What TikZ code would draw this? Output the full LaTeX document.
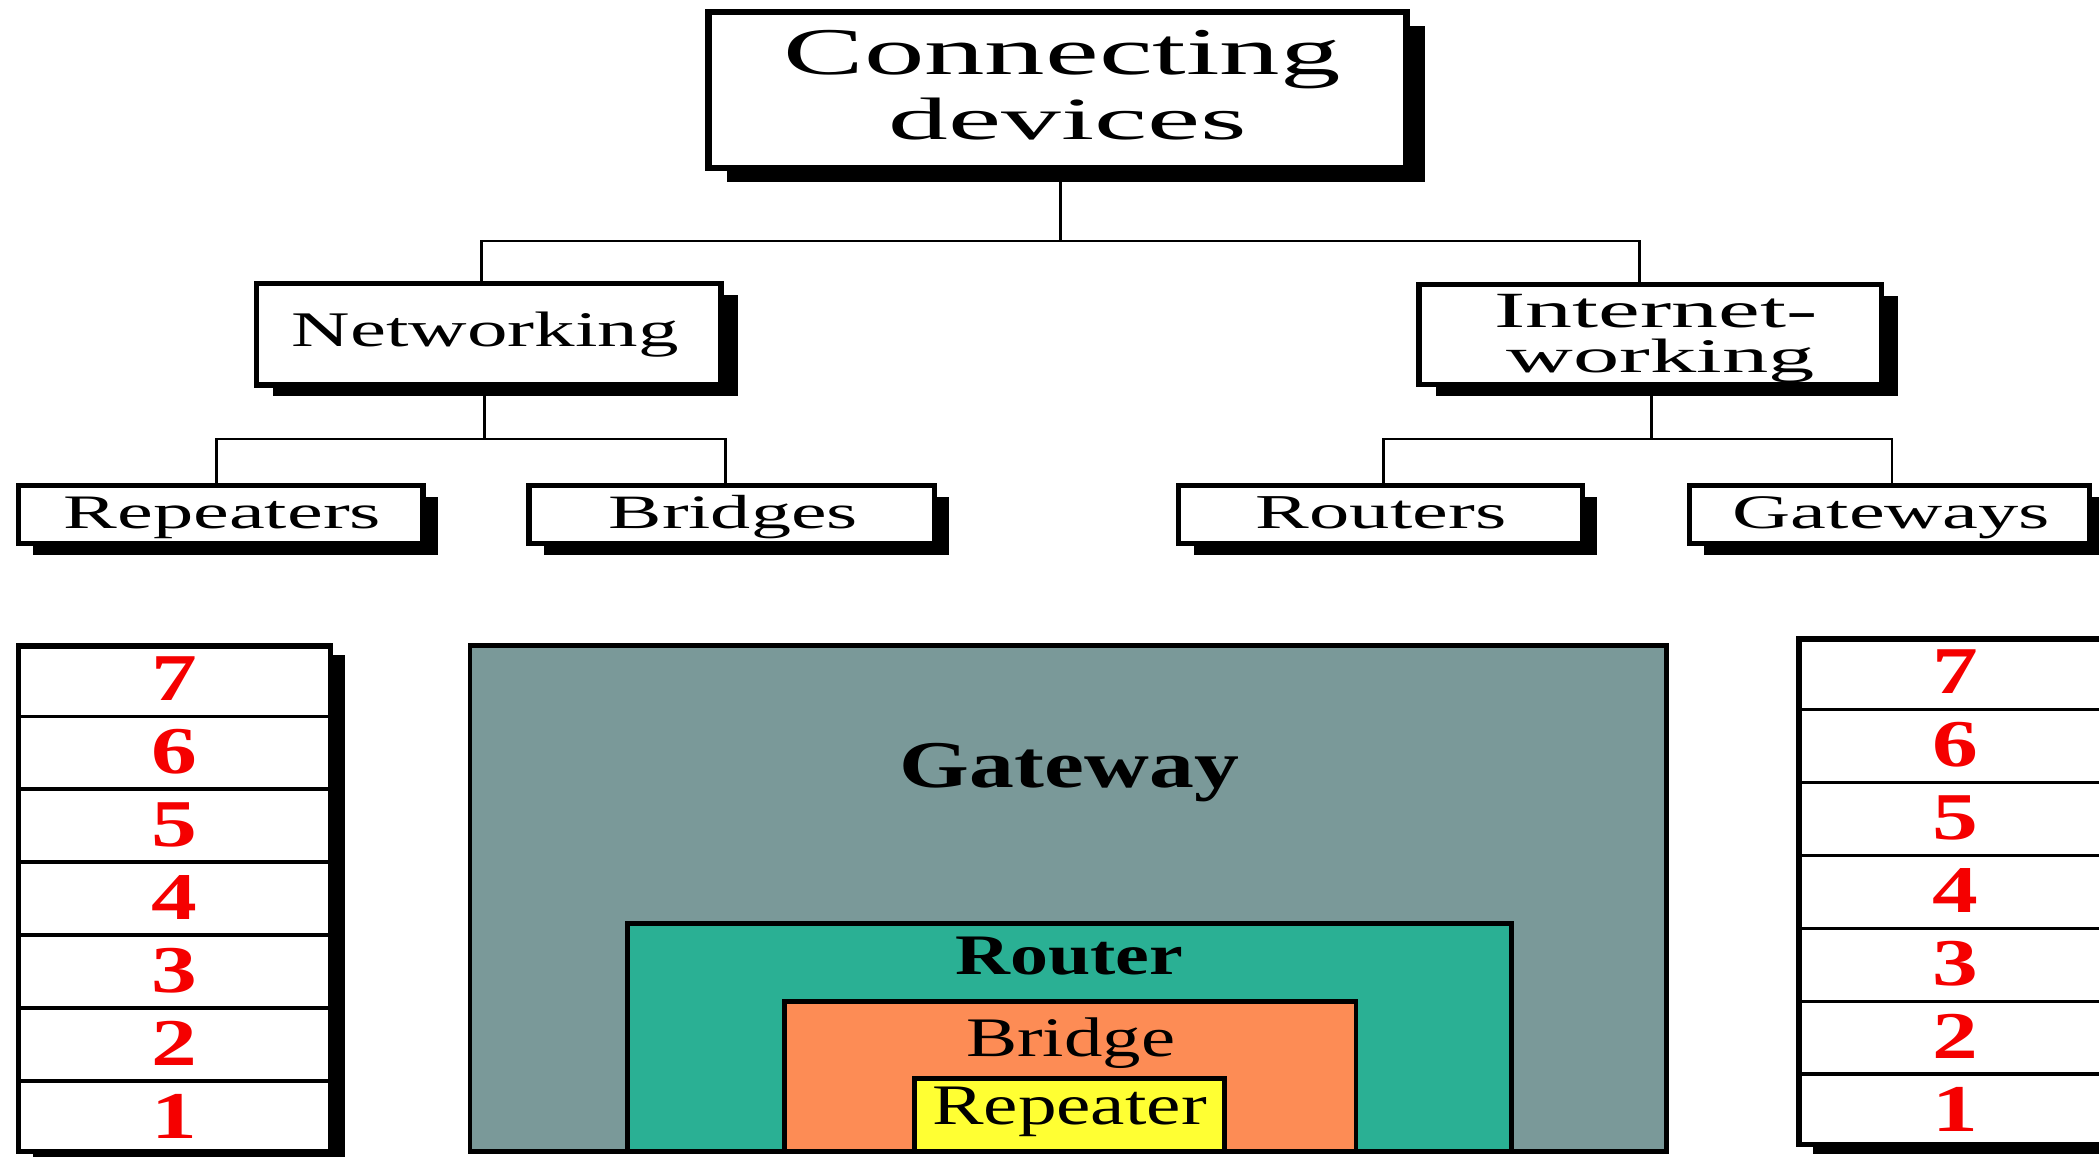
\documentclass[tikz,border=0pt]{standalone}
\usepackage{fontspec}
\setmainfont{Liberation Serif}
\usepackage{graphicx}
\usetikzlibrary{fit,shadows}
\definecolor{gwfill}{RGB}{122,153,153}
\definecolor{rtfill}{RGB}{42,176,148}
\definecolor{brfill}{RGB}{253,140,85}
\definecolor{rpfill}{RGB}{255,255,51}
\definecolor{digitred}{RGB}{245,0,0}
\newcommand\rz[3]{\resizebox{#1mm}{#2mm}{#3}}
\begin{document}
\begin{tikzpicture}[x=0.01cm,y=-0.01cm,
  bigbox/.style={draw=black, fill=white, line width=1.3pt, inner sep=0pt,
    drop shadow={shadow xshift=0.14cm, shadow yshift=-0.10cm, opacity=1, fill=black}},
  treebox/.style={draw=black, fill=white, line width=1.14pt, inner sep=0pt,
    drop shadow={shadow xshift=0.125cm, shadow yshift=-0.085cm, opacity=1, fill=black}},
  leafbox/.style={draw=black, fill=white, line width=1.14pt, inner sep=0pt,
    drop shadow={shadow xshift=0.11cm, shadow yshift=-0.085cm, opacity=1, fill=black}},
  stackbox/.style={draw=black, fill=white, line width=1.14pt, inner sep=0pt,
    drop shadow={shadow xshift=0.105cm, shadow yshift=-0.07cm, opacity=1, fill=black}},
  conn/.style={draw=black, line width=0.6pt},
  sepline/.style={draw=black, line width=0.7pt},
  lbl/.style={anchor=base, inner sep=0pt, outer sep=0pt},
  digit/.style={anchor=base, inner sep=0pt, text=digitred,
    font=\fontsize{14.2pt}{14.2pt}\selectfont\bfseries},
  nest/.style={draw=black, line width=1pt, inner sep=0pt},
]
\useasboundingbox (0,0) rectangle (1568,864);

% ---------- tree boxes ----------
\node[bigbox, fit={(529.3,9.3) (1050.7,125.7)}] (top) {};
\node[treebox, fit={(191.5,211.6) (538.5,287.6)}] (net) {};
\node[treebox, fit={(1060,212.3) (1405.4,287.1)}] (inet) {};
\node[leafbox, fit={(14,362.7) (316,405.8)}] (rep) {};
\node[leafbox, fit={(395.3,362.7) (698,405.8)}] (bri) {};
\node[leafbox, fit={(880.6,362.7) (1182.2,405.8)}] (rou) {};
\node[leafbox, fit={(1262,362.7) (1561,405.8)}] (gat) {};

% ---------- connectors ----------
\coordinate (j0) at (792.3,180);
\coordinate (jL) at (359.5,180);
\coordinate (jR) at (1224.8,180);
\draw[conn] (top.south -| j0) -- (j0);
\draw[conn] (net.north -| jL) -- (jL) -- (jR) -- (inet.north -| jR);
\coordinate (nj) at (362,328);
\coordinate (nl) at (162,328);
\coordinate (nr) at (542,328);
\draw[conn] (net.south -| nj) -- (nj);
\draw[conn] (rep.north -| nl) -- (nl) -- (nr) -- (bri.north -| nr);
\coordinate (ij) at (1233.8,328);
\coordinate (il) at (1033.2,328);
\coordinate (ir) at (1413.3,328);
\draw[conn] (inet.south -| ij) -- (ij);
\draw[conn] (rou.north -| il) -- (il) -- (ir) -- (gat.north -| ir);

% ---------- tree texts ----------
\node[lbl] (tcon) at (793.4,56) {\rz{41.6}{3.3}{Connecting}};
\node[lbl] (tdev) at (797.9,104) {\rz{26.75}{3.1}{devices}};
\node[lbl] (tnet) at (362.5,259) {\rz{28.9}{2.58}{Networking}};
\node[lbl] (tint) at (1237.2,245) {\rz{24.1}{2.48}{Internet-}};
\node[lbl] (twrk) at (1240.6,278.5) {\rz{23.0}{2.5}{working}};
\node[lbl] (trep) at (166.2,395) {\rz{23.7}{2.35}{Repeaters}};
\node[lbl] (tbri) at (547.7,394.5) {\rz{18.6}{2.48}{Bridges}};
\node[lbl] (trou) at (1031.8,394.5) {\rz{18.7}{2.38}{Routers}};
\node[lbl] (tgat) at (1413,394.5) {\rz{23.7}{2.38}{Gateways}};

% ---------- left OSI stack ----------
\node[stackbox, fit={(14,482.5) (247,860)}] (lstack) {};
\foreach \k in {1,...,6} {
  \draw[sepline] (lstack.west |- 0,{480.5+\k*54.5}) -- (lstack.east |- 0,{480.5+\k*54.5});
}
\foreach \k in {1,...,7} {
  \pgfmathsetmacro\yt{480.5+(7-\k)*54.5+42.7}
  \node[digit] (ld\k) at (130,\yt) {\scalebox{1.37}[1]{\k}};
}

% ---------- right OSI stack ----------
\node[stackbox, fit={(1344,477.4) (1577,855)}] (rstack) {};
\foreach \k in {1,...,6} {
  \draw[sepline] (rstack.west |- 0,{475.4+\k*54.5}) -- (rstack.east |- 0,{475.4+\k*54.5});
}
\foreach \k in {1,...,7} {
  \pgfmathsetmacro\yt{475.4+(7-\k)*54.5+42.6}
  \node[digit] (rd\k) at (1460.5,\yt) {\scalebox{1.37}[1]{\k}};
}

% ---------- nested device boxes ----------
\node[nest, fill=gwfill, fit={(351,482.2) (1245,860.2)}] (gw) {};
\node[nest, fill=rtfill, fit={(468.8,689.8) (1129,860.2)}] (rt) {};
\node[nest, fill=brfill, fit={(586,748.3) (1013,860.2)}] (br) {};
\node[nest, fill=rpfill, fit={(683,805.8) (914.8,860.2)}] (rp) {};
\node[lbl] (tgw) at (798.9,588.4) {\rz{25.3}{3.3}{\bfseries Gateway}};
\node[lbl] (trt) at (798.9,727.8) {\rz{17.0}{2.8}{\bfseries Router}};
\node[lbl] (tbr) at (799.8,789.2) {\rz{15.6}{2.89}{Bridge}};
\node[lbl] (trp) at (798.9,840.4) {\rz{20.5}{2.8}{Repeater}};
\end{tikzpicture}
\end{document}
